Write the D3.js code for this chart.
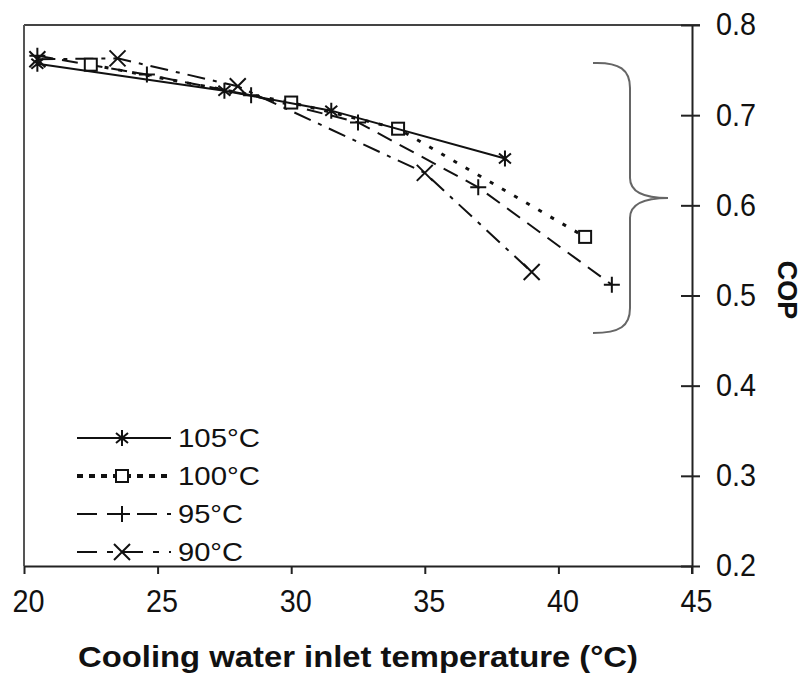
<!DOCTYPE html>
<html>
<head>
<meta charset="utf-8">
<script src="https://cdn.jsdelivr.net/npm/d3@7/dist/d3.min.js"></script>
<style>
  html, body { margin: 0; padding: 0; background: #fff; }
  svg { display: block; }
  text { font-family: "Liberation Sans", Arial, sans-serif; fill: #111; }
</style>
</head>
<body>
<svg id="chart" width="803" height="677"></svg>
<script>
// COP vs cooling water inlet temperature for four hot-water temperatures
const seriesNames = ["105°C", "100°C", "95°C", "90°C"];
const temp105 = [20.5, 27.5, 31.5, 38];
const cop105  = [0.757, 0.727, 0.705, 0.652];
const temp100 = [22.5, 30, 34, 41];
const cop100  = [0.756, 0.714, 0.685, 0.565];
const temp95  = [20.5, 24.6, 28.5, 32.5, 37, 42];
const cop95   = [0.766, 0.745, 0.722, 0.692, 0.620, 0.512];
const temp90  = [20.5, 23.5, 28, 35, 39];
const cop90   = [0.762, 0.763, 0.732, 0.636, 0.526];
const xTicks = [20, 25, 30, 35, 40, 45];
const yTicks = [0.2, 0.3, 0.4, 0.5, 0.6, 0.7, 0.8];

const svg = d3.select("#chart");
const plotL = 24, plotR = 692, plotT = 25, plotB = 566;
const x = d3.scaleLinear().domain([20, 45]).range([plotL, plotR]);
const y = d3.scaleLinear().domain([0.2, 0.8]).range([plotB, plotT]);

// frame: grey top and left edges
svg.append("line").attr("x1", plotL).attr("x2", plotR + 8).attr("y1", plotT).attr("y2", plotT)
  .attr("stroke", "#444").attr("stroke-width", 2);
svg.append("line").attr("x1", plotL).attr("x2", plotL).attr("y1", plotT).attr("y2", plotB)
  .attr("stroke", "#555").attr("stroke-width", 2);

// bottom axis
const xAxis = svg.append("g").attr("transform", `translate(0,${plotB})`)
  .call(d3.axisBottom(x).tickValues(xTicks).tickSize(8).tickSizeOuter(0).tickPadding(16));
xAxis.select(".domain").attr("stroke", "#222").attr("stroke-width", 2);
xAxis.selectAll(".tick line").attr("stroke", "#222").attr("stroke-width", 2);
xAxis.selectAll(".tick text").attr("font-size", 31).attr("dx", 4)
  .attr("textLength", 32).attr("lengthAdjust", "spacingAndGlyphs")
  .attr("font-family", "Liberation Sans, Arial, sans-serif").attr("fill", "#111");

// right axis, ticks crossing the line
const yAxis = svg.append("g").attr("transform", `translate(${plotR},0)`)
  .call(d3.axisRight(y).tickValues(yTicks).tickFormat(d3.format(".1f")).tickSize(8).tickSizeOuter(0).tickPadding(16));
yAxis.select(".domain").attr("stroke", "#222").attr("stroke-width", 2);
yAxis.selectAll(".tick line").attr("stroke", "#222").attr("stroke-width", 2).attr("x1", -11);
yAxis.selectAll(".tick text").attr("font-size", 31)
  .attr("textLength", 40).attr("lengthAdjust", "spacingAndGlyphs")
  .attr("font-family", "Liberation Sans, Arial, sans-serif").attr("fill", "#111");
svg.append("line").attr("x1", plotR).attr("x2", plotR).attr("y1", plotB).attr("y2", plotB + 8)
  .attr("stroke", "#222").attr("stroke-width", 2);

// axis titles
svg.append("text").attr("x", (plotL + plotR) / 2).attr("y", 667).attr("text-anchor", "middle")
  .attr("font-size", 30).attr("font-weight", "bold")
  .attr("textLength", 560).attr("lengthAdjust", "spacingAndGlyphs")
  .text("Cooling water inlet temperature (°C)");
svg.append("text").attr("transform", "translate(778,290) rotate(90)").attr("text-anchor", "middle")
  .attr("font-size", 27).attr("font-weight", "bold").text("COP");

// brace grouping the curves
const brace = d3.path();
brace.moveTo(593, 63);
brace.bezierCurveTo(620, 62, 630, 70, 630, 88);
brace.lineTo(630, 178);
brace.bezierCurveTo(630, 192, 645, 198, 668, 198);
brace.bezierCurveTo(645, 198, 630, 204, 630, 218);
brace.lineTo(630, 308);
brace.bezierCurveTo(630, 326, 620, 333, 593, 333);
svg.append("path").attr("d", brace.toString()).attr("fill", "none")
  .attr("stroke", "#666").attr("stroke-width", 2);

// marker shapes
function marker(g, type, cx, cy) {
  const s = g.append("g").attr("transform", `translate(${cx},${cy})`)
    .attr("stroke", "#111").attr("stroke-width", 2).attr("fill", "none");
  if (type === "asterisk") {
    s.append("path").attr("d", "M0,-8V8M-6,-5L6,5M-6,5L6,-5");
  } else if (type === "square") {
    s.append("rect").attr("x", -6).attr("y", -6).attr("width", 12).attr("height", 12).attr("fill", "#fff");
  } else if (type === "plus") {
    s.append("path").attr("d", "M0,-8V8M-8,0H8");
  } else if (type === "cross") {
    s.append("path").attr("d", "M-8,-8L8,8M-8,8L8,-8");
  }
}

const series = [
  { name: seriesNames[0], t: temp105, c: cop105, dash: null, w: 2, m: "asterisk", ldash: null, lw: 2, tl: 82 },
  { name: seriesNames[1], t: temp100, c: cop100, dash: "4,10", w: 3, m: "square", ldash: "6,6", lw: 4, tl: 82 },
  { name: seriesNames[2], t: temp95,  c: cop95,  dash: "16,9", w: 2, m: "plus", ldash: "20,10", lw: 2, tl: 65 },
  { name: seriesNames[3], t: temp90,  c: cop90,  dash: "18,8,4,8", w: 2, m: "cross", ldash: "20,10,6,10", lw: 2, tl: 65 }
];

const line = d3.line().x(d => x(d[0])).y(d => y(d[1]));
series.slice().reverse().forEach(s => {
  const pts = s.t.map((t, i) => [t, s.c[i]]);
  svg.append("path").attr("d", line(pts)).attr("fill", "none").attr("stroke", "#111")
    .attr("stroke-width", s.w).attr("stroke-dasharray", s.dash);
  pts.forEach(p => marker(svg, s.m, x(p[0]), y(p[1])));
});

// legend
const legendRows = [438, 476, 514, 552];
series.forEach((s, i) => {
  const ly = legendRows[i];
  svg.append("line").attr("x1", 77).attr("x2", 171).attr("y1", ly).attr("y2", ly)
    .attr("stroke", "#111").attr("stroke-width", s.lw).attr("stroke-dasharray", s.ldash);
  marker(svg, s.m, 122, ly);
  svg.append("text").attr("x", 178).attr("y", ly + 9).attr("font-size", 25)
    .attr("textLength", s.tl).attr("lengthAdjust", "spacingAndGlyphs").text(s.name);
});
</script>
</body>
</html>
